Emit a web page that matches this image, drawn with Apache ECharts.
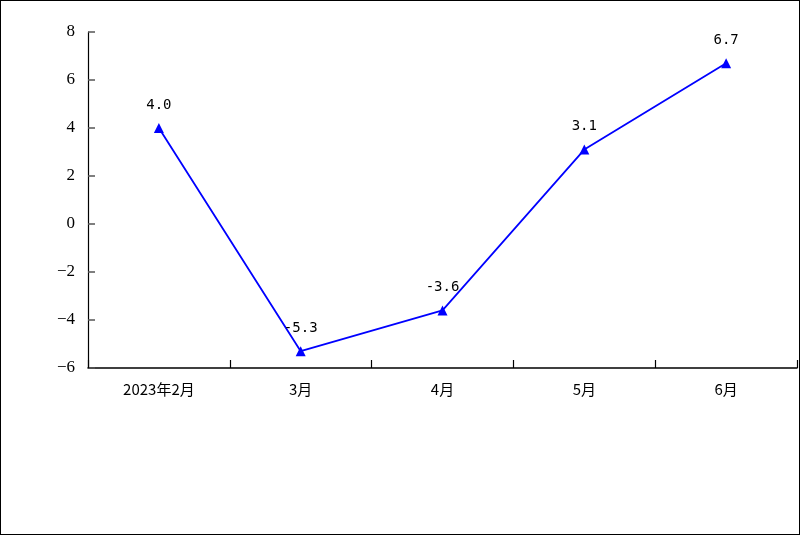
<!DOCTYPE html>
<html>
<head>
<meta charset="utf-8">
<script src="https://cdn.jsdelivr.net/npm/echarts@6/dist/echarts.min.js"></script>
<style>
  html, body { margin: 0; padding: 0; background: #fff; }
  #chart { width: 800px; height: 535px; box-sizing: border-box; border: 1px solid #000; }
</style>
</head>
<body>
<div id="chart"></div>
<script>
// Monthly growth rate (%), Feb–Jun 2023
const categories = ['2023年2月', '3月', '4月', '5月', '6月'];
const values = [4.0, -5.3, -3.6, 3.1, 6.7];
const yMin = -6, yMax = 8, yStep = 2;

const chart = echarts.init(document.getElementById('chart'));
chart.setOption({
  animation: false,
  grid: { left: 87, top: 31, right: 2, bottom: 166 },
  xAxis: {
    type: 'category',
    data: categories,
    boundaryGap: true,
    axisLine: { onZero: false, lineStyle: { color: '#000', width: 1.5 } },
    axisTick: { show: true, interval: 0, inside: true, length: 8, lineStyle: { color: '#000', width: 1.2 } },
    axisLabel: { color: '#000', fontSize: 15, margin: 14, fontFamily: 'Noto Sans CJK SC' },
    splitLine: { show: false }
  },
  yAxis: {
    type: 'value',
    min: yMin, max: yMax, interval: yStep,
    axisLine: { show: true, lineStyle: { color: '#000', width: 1.2 } },
    axisTick: { show: true, inside: true, length: 7, lineStyle: { color: '#555', width: 1.5 } },
    axisLabel: {
      color: '#000', fontSize: 17, margin: 13, fontFamily: 'Liberation Serif',
      formatter: v => String(v).replace('-', '\u2212')
    },
    splitLine: { show: false }
  },
  series: [{
    type: 'line',
    data: values,
    symbol: 'triangle',
    symbolSize: 10,
    lineStyle: { color: '#0000ff', width: 1.8 },
    itemStyle: { color: '#0000ff' },
    label: {
      show: true,
      position: 'top',
      distance: 11,
      color: '#000',
      fontSize: 14,
      fontFamily: 'DejaVu Sans Mono',
      formatter: p => p.value.toFixed(1)
    }
  }]
});
</script>
</body>
</html>
